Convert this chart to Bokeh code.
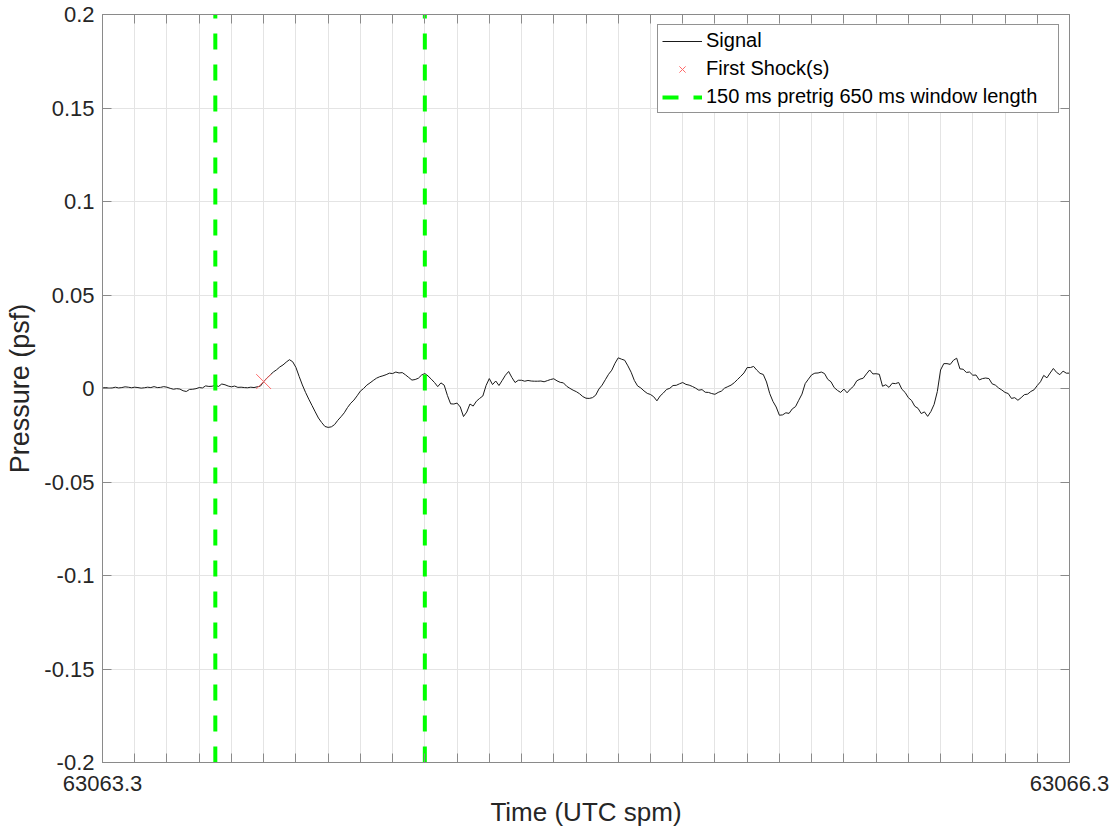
import numpy as np
from bokeh.plotting import figure
from bokeh.models import (Range1d, FixedTicker, LinearAxis, NumeralTickFormatter,
                          Legend, LegendItem, ColumnDataSource, Grid,
                          CustomJSTickFormatter)
from bokeh.embed import file_html
from bokeh.resources import INLINE

# ---------------- data ----------------
t_start = 63063.3
t_end = 63066.3
sample_step = 0.01  # s
# pressure in milli-psf, one sample every 10 ms from t_start
pressure_mpsf = [
    0.3, 0.5, 0.2, 0.3, 0.7, 0.3, 0.5, 0.9, 0.7, 0.4,
    0.7, 0.5, 0.2, 0.4, 0.7, 0.5, 1.0, 0.5, 0.6, 1.0,
    0.7, 0.1, -0.4, -0.1, -0.3, -1.2, -1.6, -0.5, -0.4, -0.1,
    0.5, 0.3, 1.4, 1.1, 1.2, 1.7, 1.1, 2.4, 2.0, 1.3,
    0.9, 1.3, 0.6, 0.7, 0.5, 0.4, 0.7, 0.5, 0.9, 1.3,
    3.7, 5.6, 7.2, 8.8, 10.0, 11.5, 12.6, 14.1, 15.4, 14.3,
    11.3, 6.5, 1.9, -2.1, -5.7, -9.1, -12.5, -15.8, -18.2, -20.3,
    -20.8, -20.5, -19.3, -17.0, -15.1, -13.0, -10.2, -7.9, -6.2, -3.9,
    -1.4, 0.0, 1.8, 3.0, 4.3, 5.5, 6.3, 6.8, 7.4, 8.2,
    8.0, 8.8, 8.3, 8.5, 7.3, 5.9, 4.5, 4.8, 5.5, 7.2,
    8.0, 6.7, 5.0, 3.2, 1.0, 3.0, 1.8, -3.7, -8.2, -8.3,
    -7.8, -9.9, -15.0, -12.6, -8.3, -9.4, -6.8, -5.3, -4.0, 1.6,
    5.3, 2.1, 4.0, 1.6, 4.3, 7.1, 9.1, 5.9, 3.2, 4.4,
    4.4, 3.9, 4.3, 4.0, 3.9, 3.9, 4.0, 3.6, 4.2, 4.8,
    5.2, 4.1, 3.3, 3.0, 1.2, 0.1, -0.9, -1.7, -2.8, -4.3,
    -5.2, -5.3, -4.9, -3.6, -0.3, 1.8, 4.7, 7.6, 9.8, 13.5,
    16.4, 15.7, 15.1, 12.1, 8.7, 4.3, 1.4, 0.3, -1.3, -2.6,
    -3.2, -4.4, -6.6, -4.0, -2.4, -0.5, 0.1, 1.6, 1.7, 2.5,
    3.2, 2.2, 1.8, 1.1, 0.2, -0.9, -0.6, -2.0, -2.1, -2.7,
    -3.1, -2.1, -1.4, 0.2, 1.0, 1.8, 3.1, 4.8, 6.5, 8.3,
    11.2, 11.2, 11.8, 9.8, 8.1, 7.5, 3.5, -2.7, -6.9, -9.9,
    -14.3, -14.1, -13.0, -13.3, -10.9, -9.7, -6.3, -3.0, 2.6, 5.0,
    7.3, 8.2, 8.3, 8.8, 8.0, 4.9, 3.6, 0.5, -1.0, -2.1,
    -0.3, -2.3, -0.3, 1.2, 4.1, 5.0, 5.5, 7.8, 9.9, 7.8,
    7.9, 7.6, 1.2, 2.0, 0.6, 2.8, 2.6, 3.2, -0.4, -2.1,
    -4.9, -6.4, -9.5, -10.6, -13.4, -12.5, -14.9, -12.3, -8.5, -1.6,
    9.9, 13.3, 13.3, 12.9, 15.1, 16.2, 10.5, 10.3, 8.6, 8.8,
    7.1, 7.2, 4.6, 5.3, 5.6, 5.3, 2.5, 1.8, 0.3, -0.8,
    -2.1, -2.7, -5.3, -4.9, -6.3, -4.9, -3.3, -3.0, -1.6, -0.7,
    1.6, 3.6, 7.0, 5.7, 8.3, 10.7, 8.6, 7.4, 9.3, 8.2,
    8.2,
]
shock_times = [63063.8]
shock_pressures = [0.0037]
window_times = [63063.65, 63064.3]  # 150 ms pretrig, 650 ms window
y_min, y_max = -0.2, 0.2
y_ticks = [-0.2, -0.15, -0.1, -0.05, 0, 0.05, 0.1, 0.15, 0.2]
x_major_ticks = [63063.3, 63066.3]
x_minor_ticks = [round(63063.3 + 0.1 * i, 1) for i in range(1, 30)]

time = t_start + sample_step * np.arange(len(pressure_mpsf))
pressure = np.array(pressure_mpsf) / 1000.0

# ---------------- styling ----------------
FONT = "Liberation Sans"
AXIS_COL = "#8a8a8a"
TXT_COL = "#262626"
GRID_COL = "#e4e4e4"

W, H = 1116, 834
p = figure(width=W, height=H,
           x_range=Range1d(t_start, t_end), y_range=Range1d(y_min, y_max),
           x_axis_type=None, y_axis_type=None,
           output_backend="svg", toolbar_location=None,
           min_border_left=102, min_border_right=W - 1069,
           min_border_top=14, min_border_bottom=H - 762)
p.outline_line_color = AXIS_COL
p.outline_line_width = 1
p.background_fill_color = "white"
p.border_fill_color = "white"

xticker = FixedTicker(ticks=x_major_ticks, minor_ticks=x_minor_ticks)
yticker = FixedTicker(ticks=y_ticks, minor_ticks=[])
blank = CustomJSTickFormatter(code="return ''")

def style_axis(ax):
    ax.axis_line_color = AXIS_COL
    ax.major_tick_line_color = AXIS_COL
    ax.minor_tick_line_color = AXIS_COL
    ax.major_tick_in = 9
    ax.major_tick_out = 0
    ax.minor_tick_in = 9
    ax.minor_tick_out = 0
    ax.major_label_text_font = FONT
    ax.major_label_text_font_size = "22px"
    ax.major_label_text_color = TXT_COL
    ax.axis_label_text_font = FONT
    ax.axis_label_text_font_style = "normal"
    ax.axis_label_text_color = TXT_COL

xaxis = LinearAxis(ticker=xticker, formatter=NumeralTickFormatter(format="0.0"),
                   axis_label="Time (UTC spm)")
style_axis(xaxis)
xaxis.axis_label_text_font_size = "26px"
xaxis.major_label_standoff = 13
xaxis.axis_label_standoff = 3
p.add_layout(xaxis, "below")

yaxis = LinearAxis(ticker=yticker, formatter=NumeralTickFormatter(format="0.[00]"),
                   axis_label="Pressure (psf)")
style_axis(yaxis)
yaxis.axis_label_text_font_size = "27px"
yaxis.major_label_standoff = 8
yaxis.axis_label_standoff = 6
p.add_layout(yaxis, "left")

xtop = LinearAxis(ticker=xticker, formatter=blank)
style_axis(xtop)
xtop.major_label_standoff = 0
xtop.major_tick_in = 0
p.add_layout(xtop, "above")

yright = LinearAxis(ticker=yticker, formatter=blank)
style_axis(yright)
yright.major_label_standoff = 0
p.add_layout(yright, "right")

xgrid = Grid(dimension=0, ticker=xticker, grid_line_color=None,
             minor_grid_line_color=GRID_COL, minor_grid_line_width=1)
ygrid = Grid(dimension=1, ticker=yticker, grid_line_color=GRID_COL, grid_line_width=1)
p.add_layout(xgrid)
p.add_layout(ygrid)

src = ColumnDataSource(dict(t=time, p=pressure))
r_sig = p.line("t", "p", source=src, line_color="#1a1a1a", line_width=1)

r_shock = p.scatter(shock_times, shock_pressures, marker="x", size=21,
                    line_color="#ff6a6a", line_width=1)

wsrc = ColumnDataSource(dict(x=window_times, y0=[y_min] * len(window_times),
                             y1=[y_max] * len(window_times)))
r_win = p.segment(x0="x", y0="y0", x1="x", y1="y1", source=wsrc,
                  line_color="#00ff00", line_width=4, line_dash="16 15")

legend = Legend(items=[
    LegendItem(label="Signal", renderers=[r_sig]),
    LegendItem(label="First Shock(s)", renderers=[r_shock]),
    LegendItem(label="150 ms pretrig 650 ms window length", renderers=[r_win]),
], location="top_right")
legend.label_text_font = FONT
legend.label_text_font_size = "20px"
legend.label_text_color = "#000000"
legend.border_line_color = "#262626"
legend.border_line_width = 1
legend.background_fill_color = "white"
legend.background_fill_alpha = 1
legend.glyph_width = 40
legend.glyph_height = 22
legend.label_standoff = 4
legend.label_height = 22
legend.label_width = 348
legend.spacing = 5
legend.padding = 4
legend.margin = 10
p.add_layout(legend)

open("out.html", "w").write(file_html(p, INLINE))
